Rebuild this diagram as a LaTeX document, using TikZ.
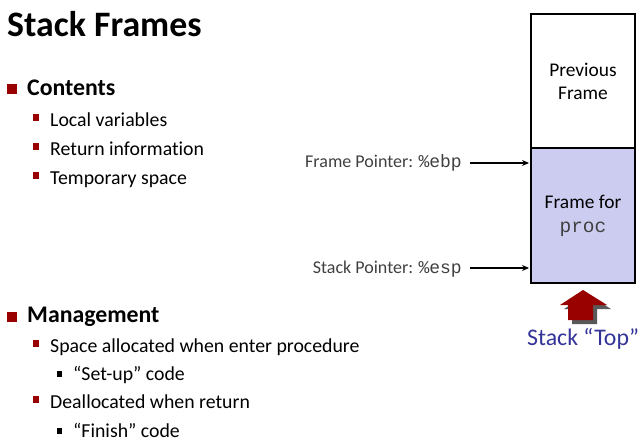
\documentclass[tikz,border=0pt]{standalone}
\usepackage{fontspec}
\setmainfont[Ligatures=NoCommon]{Carlito}
\newfontfamily\codefont{Liberation Mono}
\usetikzlibrary{arrows.meta}
\definecolor{bulletred}{HTML}{990000}
\definecolor{framefill}{HTML}{CCCCF0}
\definecolor{toptext}{HTML}{333399}
\definecolor{labelgray}{HTML}{404040}
\definecolor{shadowgray}{HTML}{595959}
\begin{document}
\begin{tikzpicture}[x=1pt,y=-1pt,
  titletext/.style={anchor=base west,inner sep=0pt,font=\fontsize{35.8}{40}\selectfont\bfseries},
  lvlone/.style={anchor=base west,inner sep=0pt,font=\fontsize{23.8}{27}\selectfont\bfseries},
  lvltwo/.style={anchor=base west,inner sep=0pt,font=\fontsize{19.8}{23}\selectfont},
  ptrlabel/.style={anchor=base east,inner sep=0pt,text=labelgray,font=\fontsize{18}{20}\selectfont},
  ptrarrow/.style={line width=1.2pt,-{Stealth[length=7pt,width=6pt]}},
  framebox/.style={draw,line width=2.2pt,minimum width=104pt,inner sep=0pt,align=center,
    font=\fontsize{19.4}{23}\selectfont},
]
\useasboundingbox (0,0) rectangle (641,447);

% title
\node[titletext] (title) at (7,36) {Stack Frames};

% first list
\fill[bulletred] (7,84) rectangle (17,94);
\node[lvlone] (contents) at (27,95) {Contents};
\foreach \yb/\txt/\nm in {126/Local variables/locals,155/Return information/retinfo,184/Temporary space/tmp}{
  \fill[bulletred] (33,\yb-12) rectangle (39,\yb-5);
  \node[lvltwo] (\nm) at (50,\yb) {\txt};
}

% second list
\fill[bulletred] (7,312) rectangle (17,322);
\node[lvlone] (mgmt) at (27,322) {Management};
\fill[bulletred] (33,340) rectangle (39,347);
\node[lvltwo] (alloc) at (50,352) {Space allocated when enter procedure};
\fill[black] (57,371) rectangle (62,377);
\node[lvltwo] (setup) at (73,380) {“Set-up” code};
\fill[bulletred] (33,396) rectangle (39,403);
\node[lvltwo] (dealloc) at (50,408) {Deallocated when return};
\fill[black] (57,428) rectangle (62,434);
\node[lvltwo] (finish) at (73,437) {“Finish” code};

% the stack
\node[framebox,minimum height=134pt] (prev) at (583,81) {Previous\\Frame};
\node[framebox,fill=framefill,minimum height=135pt] (cur) at (583,215.5)
  {Frame for\\[1pt]{\codefont\color{labelgray}\fontsize{19.5}{23}\selectfont proc}};

% pointers
\node[ptrlabel] (fplab) at (462,167) {Frame Pointer: {\codefont\%ebp}};
\node[ptrlabel] (splab) at (462,273) {Stack Pointer: {\codefont\%esp}};
\coordinate (fpend) at (529,163);
\coordinate (spend) at (529,268);
\draw[ptrarrow] ([xshift=8pt]fplab.east |- fpend) -- (fpend);
\draw[ptrarrow] ([xshift=8pt]splab.east |- spend) -- (spend);

% stack top marker
\fill[shadowgray] (587,294) -- (611,309) -- (597,309) -- (597,324) -- (572,324) -- (572,309) -- (564,309) -- cycle;
\fill[bulletred] (583,290) -- (607,305) -- (593,305) -- (593,320) -- (568,320) -- (568,305) -- (560,305) -- cycle;
\node[anchor=base west,inner sep=0pt,text=toptext,font=\fontsize{23.8}{27}\selectfont] (toplab) at (527,345) {Stack “Top”};
\end{tikzpicture}
\end{document}
